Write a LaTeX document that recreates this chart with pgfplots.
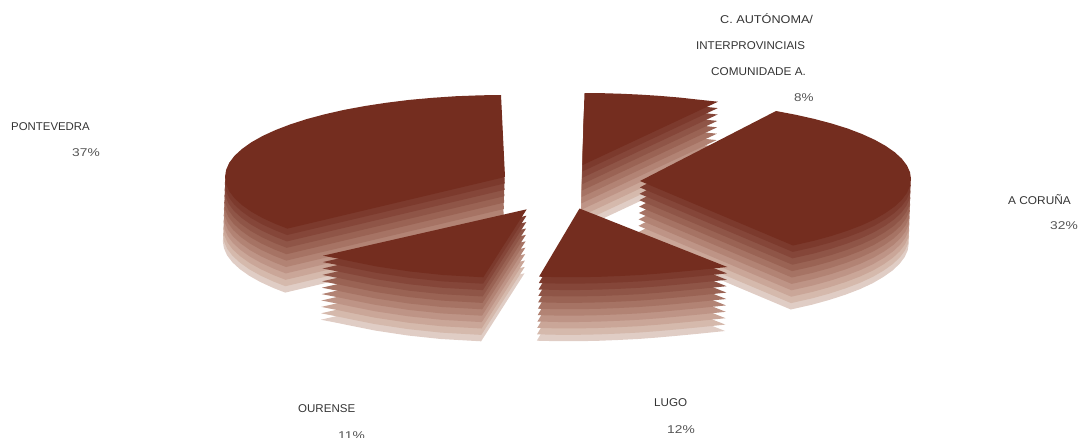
\documentclass[border=0pt]{standalone}
\usepackage{fontspec}
\setmainfont{Liberation Sans}
\usepackage{graphicx}
\usepackage{pgfplots}
\usepackage{pgfplotstable}
\pgfplotsset{compat=1.18}

\definecolor{topc}{HTML}{742D1F}
\definecolor{lay1}{HTML}{7C3A2D}
\definecolor{lay2}{HTML}{854639}
\definecolor{lay3}{HTML}{8F5547}
\definecolor{lay4}{HTML}{9A6354}
\definecolor{lay5}{HTML}{A67364}
\definecolor{lay6}{HTML}{B28374}
\definecolor{lay7}{HTML}{BE9486}
\definecolor{lay8}{HTML}{CAA698}
\definecolor{lay9}{HTML}{D5B9AC}
\definecolor{lay10}{HTML}{E0CDC5}
\definecolor{lbl}{HTML}{333333}
\definecolor{pct}{HTML}{555555}

% top faces, in pixels of the picture
\pgfplotstableread{
x y
505 177
287.4 228.6
275.6 224
262.5 218
251.3 211.7
241.9 205
234.5 198.2
229.2 191.2
226.1 184.1
225 177
226.1 169.9
229.2 162.8
234.5 155.8
241.9 149
251.3 142.3
262.5 136
275.6 130
290.5 124.3
307 119
325 114.2
344.4 109.8
365 106
386.6 102.7
409.2 99.9
432.5 97.8
456.3 96.2
480.6 95.3
501 95
}\pontevedra
\pgfplotstableread{
x y
640 181
793 245.5
814.2 240.7
831.6 235.9
847.6 230.7
862 225.2
874.7 219.3
885.5 213
894.7 206.5
901.8 199.8
906.9 193
910 186
911 179
910 172.2
906.9 165.4
901.8 158.7
894.7 152.2
885.5 145.8
874.7 139.8
862 134
847.6 128.5
831.6 123.5
814.2 118.9
795.5 114.7
776 111
}\coruna
\pgfplotstableread{
x y
582.7 165
584.5 93.2
600 93.1
620 93.7
640 94.6
660 95.9
680 97.6
700 99.8
718 101.7
}\autonoma
\pgfplotstableread{
x y
579.5 208.5
539 276.7
560 277.2
580 277.2
600 276.8
620 276
640 275
660 273.5
680 271.7
700 269.8
727.3 267
}\lugo
\pgfplotstableread{
x y
526.7 209.3
323 255.7
340 259
353 261.7
377 266.5
410 271.5
443 275
483.3 277.3
}\ourense

\newcommand\slice[1]{%
  \pgfplotsinvokeforeach{10,9,8,7,6,5,4,3,2,1}{%
    \addplot[draw=none,fill=lay##1,forget plot]
      table[x expr=\thisrow{x}-0.22*##1,y expr=\thisrow{y}+6.4*##1]{#1};
  }%
  \addplot[draw=none,fill=topc,forget plot] table{#1};
}

\tikzset{lab/.style={anchor=west,font=\fontsize{11.3}{13}\selectfont,text=lbl,inner sep=0pt},
  val/.style={lab,text=pct}}
\newcommand\wide[2]{\scalebox{#1}[1]{#2}}

\begin{document}
\begin{tikzpicture}
\begin{axis}[
  scale only axis,width=1078pt,height=437pt,
  xmin=0,xmax=1078,ymin=0,ymax=437,y dir=reverse,
  axis line style={draw=none},ticks=none,
  ]
  \slice{\autonoma}
  \slice{\pontevedra}
  \slice{\coruna}
  \slice{\ourense}
  \slice{\lugo}

  \node[lab] at (axis cs:720,18.5) {\wide{1.12}{C. AUTÓNOMA/}};
  \node[lab] at (axis cs:696,45.5) {\wide{1.02}{INTERPROVINCIAIS}};
  \node[lab] at (axis cs:711,72) {\wide{1.04}{COMUNIDADE A.}};
  \node[val] at (axis cs:794,98) {\wide{1.19}{8\%}};
  \node[lab] at (axis cs:11,127) {\wide{1.01}{PONTEVEDRA}};
  \node[val] at (axis cs:72,152.5) {\wide{1.22}{37\%}};
  \node[lab] at (axis cs:1008,199.5) {\wide{1.05}{A CORUÑA}};
  \node[val] at (axis cs:1050,225.5) {\wide{1.22}{32\%}};
  \node[lab] at (axis cs:298,408.5) {\wide{1.02}{OURENSE}};
  \node[val,overlay] at (axis cs:338,435.5) {\wide{1.22}{11\%}};
  \node[lab] at (axis cs:654,402.5) {\wide{1.03}{LUGO}};
  \node[val] at (axis cs:667,429.5) {\wide{1.22}{12\%}};
\end{axis}
\end{tikzpicture}
\end{document}
